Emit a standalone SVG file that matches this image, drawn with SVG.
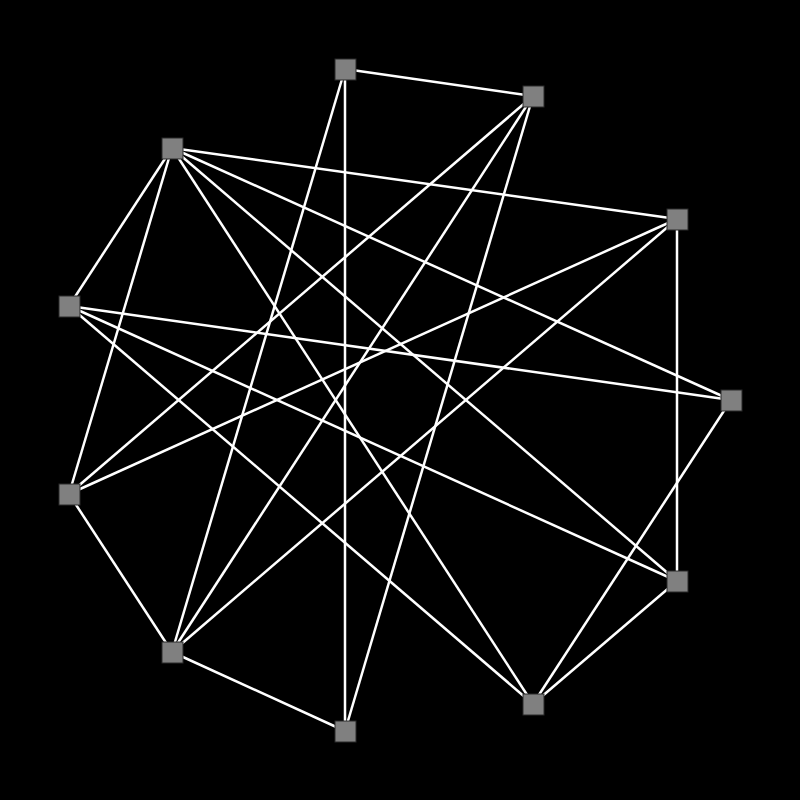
<svg xmlns="http://www.w3.org/2000/svg" width="800" height="800" viewBox="0 0 800 800">
<style>
.e{stroke:#ffffff;stroke-width:2.5;fill:none}
.n{fill:#808080;stroke:#2a2a2a;stroke-width:1}
</style>
<rect width="800" height="800" fill="#000000"/>
<g id="edges">
<line class="e" x1="345" y1="69" x2="533" y2="96"/>
<line class="e" x1="345" y1="69" x2="345" y2="731"/>
<line class="e" x1="345" y1="69" x2="172" y2="652"/>
<line class="e" x1="533" y1="96" x2="69" y2="494"/>
<line class="e" x1="533" y1="96" x2="172" y2="652"/>
<line class="e" x1="533" y1="96" x2="345" y2="731"/>
<line class="e" x1="172" y1="148" x2="677" y2="219"/>
<line class="e" x1="172" y1="148" x2="69" y2="306"/>
<line class="e" x1="172" y1="148" x2="731" y2="400"/>
<line class="e" x1="172" y1="148" x2="69" y2="494"/>
<line class="e" x1="172" y1="148" x2="677" y2="581"/>
<line class="e" x1="172" y1="148" x2="533" y2="704"/>
<line class="e" x1="677" y1="219" x2="69" y2="494"/>
<line class="e" x1="677" y1="219" x2="172" y2="652"/>
<line class="e" x1="677" y1="219" x2="677" y2="581"/>
<line class="e" x1="69" y1="306" x2="731" y2="400"/>
<line class="e" x1="69" y1="306" x2="677" y2="581"/>
<line class="e" x1="69" y1="306" x2="533" y2="704"/>
<line class="e" x1="731" y1="400" x2="533" y2="704"/>
<line class="e" x1="69" y1="494" x2="172" y2="652"/>
<line class="e" x1="172" y1="652" x2="345" y2="731"/>
<line class="e" x1="677" y1="581" x2="533" y2="704"/>
</g>
<g id="n1"><rect class="n" x="335" y="59" width="21" height="21"/></g>
<g id="n2"><rect class="n" x="523" y="86" width="21" height="21"/></g>
<g id="n3"><rect class="n" x="162" y="138" width="21" height="21"/></g>
<g id="n4"><rect class="n" x="667" y="209" width="21" height="21"/></g>
<g id="n5"><rect class="n" x="59" y="296" width="21" height="21"/></g>
<g id="n6"><rect class="n" x="721" y="390" width="21" height="21"/></g>
<g id="n7"><rect class="n" x="59" y="484" width="21" height="21"/></g>
<g id="n8"><rect class="n" x="667" y="571" width="21" height="21"/></g>
<g id="n9"><rect class="n" x="162" y="642" width="21" height="21"/></g>
<g id="n10"><rect class="n" x="523" y="694" width="21" height="21"/></g>
<g id="n11"><rect class="n" x="335" y="721" width="21" height="21"/></g>
</svg>
